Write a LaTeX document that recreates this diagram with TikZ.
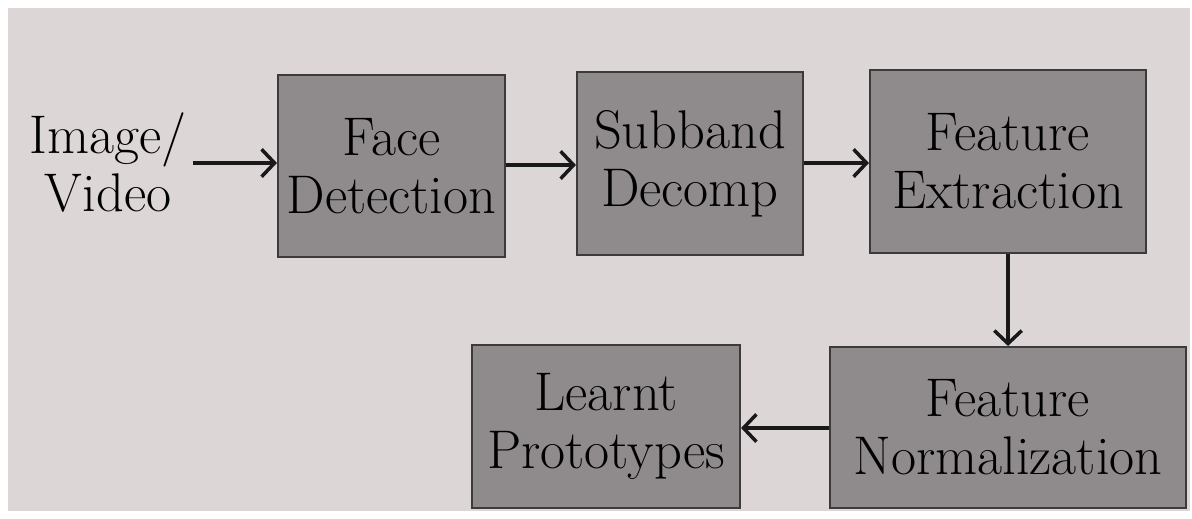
\documentclass[tikz,border=0pt]{standalone}
\usepackage{tikz}
\usetikzlibrary{arrows.meta}
\definecolor{paper}{HTML}{DCD6D7}
\definecolor{boxgray}{HTML}{8F8B8C}
\definecolor{edgegray}{HTML}{3C3A3B}

\begin{document}
\begin{tikzpicture}[x=0.02cm, y=-0.02cm, every node/.style={font=\fontsize{31}{33}\selectfont, align=center},
	>={Straight Barb[length=2.6mm, width=5.5mm, line width=2pt]},
	block/.style={draw=edgegray, line width=1.2pt, fill=boxgray, inner sep=0pt},
	flow/.style={->, line width=2pt, black!90}]
	\useasboundingbox (0,0) rectangle (1192,518);
	\fill[white] (0,0) rectangle (1192,518);
	\fill[paper] (8,8) rectangle (1190,511);
	\node (input) at (108,163) {Image/\\Video};
	\node[block, minimum width=4.54cm, minimum height=3.64cm] (face) at (391.5,166) {Face\\Detection};
	\node[block, minimum width=4.52cm, minimum height=3.66cm] (subband) at (690,163.5) {Subband\\Decomp};
	\node[block, minimum width=5.52cm, minimum height=3.66cm] (extract) at (1008,161.5) {Feature\\Extraction};
	\node[block, minimum width=7.12cm, minimum height=3.22cm] (norm) at (1008,427.5) {Feature\\Normalization};
	\node[block, minimum width=5.36cm, minimum height=3.26cm] (learnt) at (606,426.5) {Learnt\\Prototypes};
	\draw[flow] (input.east |- 0,163) -- (face.west |- 0,163);
	\draw[flow] (face.east |- 0,165) -- (subband.west |- 0,165);
	\draw[flow] (subband.east |- 0,163) -- (extract.west |- 0,163);
	\draw[flow] (extract) -- (norm);
	\draw[flow] (norm.west |- 0,428) -- (learnt.east |- 0,428);
\end{tikzpicture}
\end{document}
